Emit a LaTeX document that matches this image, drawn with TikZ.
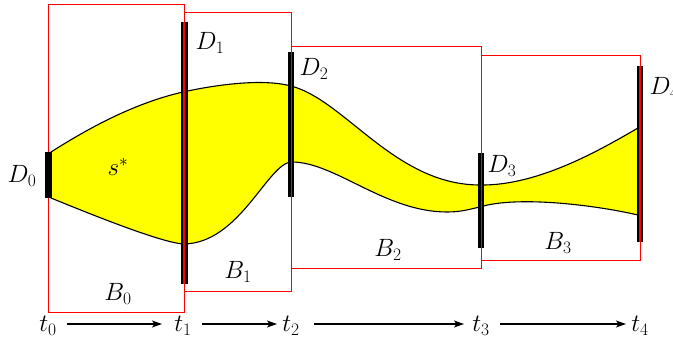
\RequirePackage{fix-cm}
\documentclass[tikz,border=0pt]{standalone}
\usetikzlibrary{arrows.meta}
\definecolor{tubeyellow}{RGB}{255,255,0}
\tikzset{
  boxline/.style={red, line width=0.9pt},
  bar/.style={line width=6.5pt, black},
  edge/.style={red, line width=1.8pt},
  lbl/.style={font=\fontsize{25}{30}\selectfont, inner sep=0pt},
  tarrow/.style={-{Stealth[length=10pt,width=7pt,inset=2.5pt]}, line width=1.1pt},
}
\begin{document}
\begin{tikzpicture}[x=1pt,y=-1pt]
\useasboundingbox (0,0) rectangle (673,337);
\clip (0,0) rectangle (673,337);
% boxes
\draw[boxline] (48,4) rectangle (184,312);
\draw[boxline] (184,12) rectangle (291,291);
\draw[boxline] (291,46) rectangle (481,268);
\draw[boxline] (481,55) rectangle (640,260);
% tube
\filldraw[fill=tubeyellow, draw=black, line width=1.1pt]
  (51,152) .. controls (95,124) and (139,102) .. (183,92)
  .. controls (213,85.4) and (261,78) .. (291,86)
  .. controls (345,100) and (395,185) .. (480,185)
  .. controls (540,186) and (605,147) .. (638,128)
  -- (638,215)
  .. controls (590,204) and (515,196) .. (480,207)
  .. controls (470,209) and (462,212) .. (447,212)
  .. controls (385,212) and (335,162) .. (292,162)
  .. controls (268,162) and (240,244) .. (183,244)
  .. controls (160,242) and (95,216) .. (51,198)
  -- cycle;
% bars
\draw[bar] (48.5,152) -- (48.5,198);
\draw[bar] (184.5,22) -- (184.5,284);
\draw[bar] (291,52) -- (291,197);
\draw[bar] (481,153) -- (481,248);
\draw[bar] (640,66) -- (640,242);
% red edges over bars
\draw[edge] (184.3,22) -- (184.3,284);
\draw[edge] (291.5,52) -- (291.5,197);
\draw[edge] (481.5,153) -- (481.5,248);
\draw[edge] (640.3,66) -- (640.3,242);
% labels
\node[lbl] (D0) at (22,176) {$D_0$};
\node[lbl] (s) at (118,167) {$s^*$};
\node[lbl] (D1) at (210,43) {$D_1$};
\node[lbl] (D2) at (314,69) {$D_2$};
\node[lbl] (D3) at (502,166) {$D_3$};
\node[lbl] (D4) at (664,88) {$D_4$};
\node[lbl] (B0) at (118,294) {$B_0$};
\node[lbl] (B1) at (238,272) {$B_1$};
\node[lbl] (B2) at (388,250) {$B_2$};
\node[lbl] (B3) at (558,243) {$B_3$};
\node[lbl] (t0) at (48,326) {$t_0$};
\node[lbl] (t1) at (183,326) {$t_1$};
\node[lbl] (t2) at (291,326) {$t_2$};
\node[lbl] (t3) at (481,326) {$t_3$};
\node[lbl] (t4) at (640,326) {$t_4$};
\draw[tarrow] ([xshift=19pt,yshift=2pt]t0.center) -- ([xshift=-21pt,yshift=2pt]t1.center);
\draw[tarrow] ([xshift=19pt,yshift=2pt]t1.center) -- ([xshift=-14pt,yshift=2pt]t2.center);
\draw[tarrow] ([xshift=23pt,yshift=2pt]t2.center) -- ([xshift=-17pt,yshift=2pt]t3.center);
\draw[tarrow] ([xshift=19pt,yshift=2pt]t3.center) -- ([xshift=-14pt,yshift=2pt]t4.center);
\end{tikzpicture}
\end{document}
